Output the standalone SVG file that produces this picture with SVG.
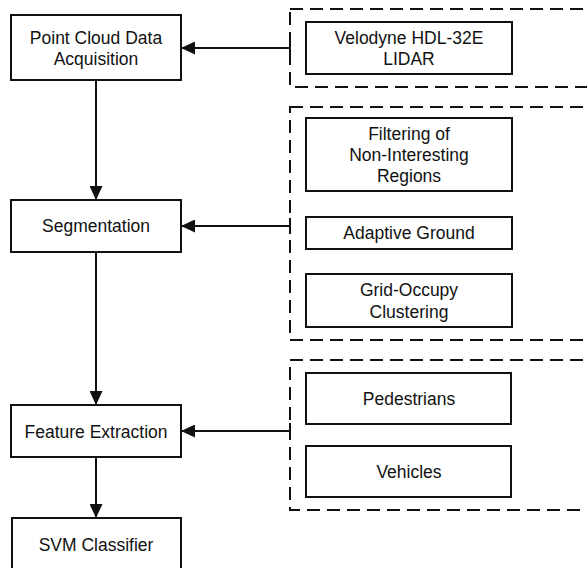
<svg xmlns="http://www.w3.org/2000/svg" width="587" height="568" viewBox="0 0 587 568">
<defs>
<style>
.box{fill:#fff;stroke:#111;stroke-width:2}
.grp{fill:none;stroke:#111;stroke-width:2;stroke-dasharray:13 7}
.t{font-family:"Liberation Sans",Arial,sans-serif;font-size:17.5px;fill:#111;text-anchor:middle}
.c{fill:none;stroke:#111;stroke-width:2}
</style>
<marker id="ah" viewBox="0 0 14 13" refX="14" refY="6.5" markerWidth="14" markerHeight="13" markerUnits="userSpaceOnUse" orient="auto">
<path d="M0,0 L14,6.5 L0,13 z" fill="#111"/>
</marker>
</defs>
<rect width="587" height="568" fill="#fff"/>
<g id="group-sensor"><rect class="grp" x="290" y="9" width="310" height="78"/></g>
<g id="group-seg"><rect class="grp" x="290" y="107" width="310" height="233"/></g>
<g id="group-feat"><rect class="grp" x="290" y="360" width="310" height="150"/></g>
<g id="acq"><rect class="box" x="11" y="15" width="170" height="65"/><text class="t" x="96" y="44">Point Cloud Data</text><text class="t" x="96" y="65">Acquisition</text></g>
<g id="seg"><rect class="box" x="11" y="200" width="170" height="52"/><text class="t" x="96" y="232">Segmentation</text></g>
<g id="feat"><rect class="box" x="11" y="405" width="170" height="52"/><text class="t" x="96" y="438">Feature Extraction</text></g>
<g id="svm"><rect class="box" x="12" y="518" width="169" height="60"/><text class="t" x="96" y="551">SVM Classifier</text></g>
<g id="lidar"><rect class="box" x="306" y="22" width="206" height="52"/><text class="t" x="409" y="44">Velodyne HDL-32E</text><text class="t" x="409" y="65">LIDAR</text></g>
<g id="filter"><rect class="box" x="306" y="118" width="206" height="73"/><text class="t" x="409" y="140">Filtering of</text><text class="t" x="409" y="161">Non-Interesting</text><text class="t" x="409" y="182">Regions</text></g>
<g id="ground"><rect class="box" x="306" y="217" width="206" height="32"/><text class="t" x="409" y="239">Adaptive Ground</text></g>
<g id="grid"><rect class="box" x="306" y="274" width="206" height="53"/><text class="t" x="409" y="296">Grid-Occupy</text><text class="t" x="409" y="318">Clustering</text></g>
<g id="ped"><rect class="box" x="306" y="373" width="205" height="51"/><text class="t" x="409" y="405">Pedestrians</text></g>
<g id="veh"><rect class="box" x="306" y="446" width="205" height="51"/><text class="t" x="409" y="478">Vehicles</text></g>
<g id="connectors">
<path class="c" d="M96,80 V200" marker-end="url(#ah)"/>
<path class="c" d="M96,252 V405" marker-end="url(#ah)"/>
<path class="c" d="M96,457 V518" marker-end="url(#ah)"/>
<path class="c" d="M290,48 H181" marker-end="url(#ah)"/>
<path class="c" d="M290,226 H181" marker-end="url(#ah)"/>
<path class="c" d="M290,431 H181" marker-end="url(#ah)"/>
<path class="c" d="M290,40 V56 M290,218 V234 M290,423 V439"/>
</g>
</svg>
